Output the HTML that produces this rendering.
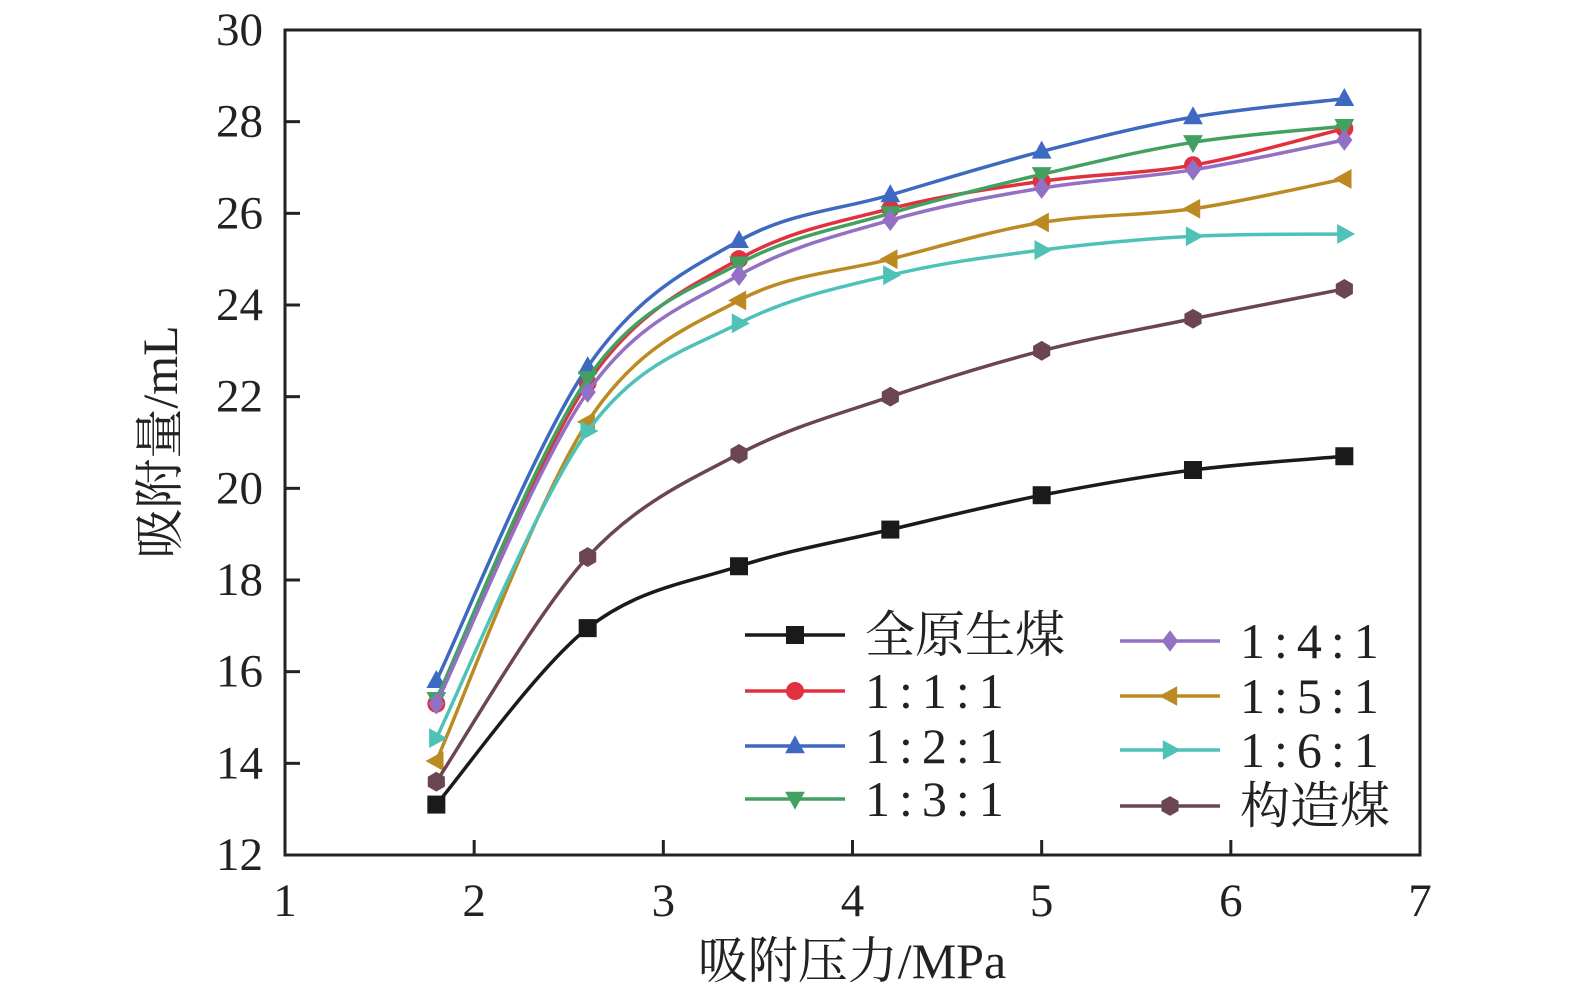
<!DOCTYPE html>
<html><head><meta charset="utf-8"><style>body{margin:0;background:#fff}svg{display:block}text{font-family:"Liberation Serif","Noto Serif CJK SC",serif;fill:#222}</style></head>
<body>
<svg id="c" width="1575" height="1001" xmlns="http://www.w3.org/2000/svg"></svg>
<script>
const xVals=[1.8,2.6,3.4,4.2,5.0,5.8,6.6];
const seriesNames=["全原生煤","1:1:1","1:2:1","1:3:1","1:4:1","1:5:1","1:6:1","构造煤"];
const s0=[13.1,16.95,18.3,19.1,19.85,20.4,20.7];
const s1=[15.3,22.3,25.0,26.1,26.7,27.05,27.85];
const s2=[15.8,22.65,25.4,26.4,27.35,28.1,28.5];
const s3=[15.4,22.4,24.9,26.0,26.85,27.55,27.9];
const s4=[15.3,22.1,24.65,25.85,26.55,26.95,27.6];
const s5=[14.05,21.45,24.1,25.0,25.8,26.1,26.75];
const s6=[14.55,21.25,23.6,24.65,25.2,25.5,25.55];
const s7=[13.6,18.5,20.75,22.0,23.0,23.7,24.35];
const xTicks=[1,2,3,4,5,6,7];
const yTicks=[12,14,16,18,20,22,24,26,28,30];
const series=[s0,s1,s2,s3,s4,s5,s6,s7];
const colors=["#1a1a1a","#e3303f","#3d69c0","#42a060","#9370c4","#bb8a22","#4fc2b8","#6b4650"];
const shapes=["square","circle","up","down","diamond","left","right","hex"];
const X0=285,X1=1420,Y0=855,Y1=30;
const sx=v=>X0+(v-1)/6*(X1-X0), sy=v=>Y0-(v-12)/18*(Y0-Y1);
const svg=document.getElementById('c');const NS="http://www.w3.org/2000/svg";
function mk(t,a,p){const e=document.createElementNS(NS,t);for(const k in a)e.setAttribute(k,a[k]);(p||svg).appendChild(e);return e;}
function marker(shape,x,y,c,r){let e;
 if(shape=="square")e=mk('rect',{x:x-r,y:y-r,width:2*r,height:2*r,fill:c});
 else if(shape=="circle")e=mk('circle',{cx:x,cy:y,r:r,fill:c});
 else{let p;
  if(shape=="up")p=[[x,y-r*1.2],[x+r*1.1,y+r*0.8],[x-r*1.1,y+r*0.8]];
  else if(shape=="down")p=[[x,y+r*1.2],[x+r*1.1,y-r*0.8],[x-r*1.1,y-r*0.8]];
  else if(shape=="left")p=[[x-r*1.2,y],[x+r*0.8,y-r*1.1],[x+r*0.8,y+r*1.1]];
  else if(shape=="right")p=[[x+r*1.2,y],[x-r*0.8,y-r*1.1],[x-r*0.8,y+r*1.1]];
  else if(shape=="diamond")p=[[x,y-r*1.2],[x+r*0.9,y],[x,y+r*1.2],[x-r*0.9,y]];
  else{p=[];for(let i=0;i<6;i++){const a=Math.PI/6+i*Math.PI/3;p.push([x+r*1.1*Math.cos(a),y+r*1.1*Math.sin(a)]);}}
  e=mk('polygon',{points:p.map(q=>q.join(',')).join(' '),fill:c});}
 return e;}
const fr=mk('rect',{x:X0,y:Y1,width:X1-X0,height:Y0-Y1,fill:'none',stroke:'#222','stroke-width':3});

xTicks.forEach(t=>{const x=sx(t);mk('line',{x1:x,x2:x,y1:Y0,y2:Y0-15,stroke:'#222','stroke-width':3});
 const tx=mk('text',{x:x,y:916,'font-size':47,'text-anchor':'middle'});tx.textContent=t;
 });
yTicks.forEach(t=>{const y=sy(t);mk('line',{x1:X0,x2:X0+15,y1:y,y2:y,stroke:'#222','stroke-width':3});
 const tx=mk('text',{x:263,y:y+15,'font-size':47,'text-anchor':'end'});tx.textContent=t;
 });
const xt=mk('text',{x:852,y:978,'font-size':50,'text-anchor':'middle'});xt.textContent="吸附压力/MPa";

const yt=mk('text',{x:0,y:0,'font-size':50,'text-anchor':'middle',transform:'translate(177,442) rotate(-90)'});yt.textContent="吸附量/mL";

function path(pts){let d=`M${pts[0][0]},${pts[0][1]}`;
 for(let i=0;i<pts.length-1;i++){const p0=pts[Math.max(i-1,0)],p1=pts[i],p2=pts[i+1],p3=pts[Math.min(i+2,pts.length-1)];
  d+=` C${p1[0]+(p2[0]-p0[0])/6},${p1[1]+(p2[1]-p0[1])/6} ${p2[0]-(p3[0]-p1[0])/6},${p2[1]-(p3[1]-p1[1])/6} ${p2[0]},${p2[1]}`;}
 return d;}
series.forEach((s,k)=>{const g=mk('g',{});
 const pts=s.map((v,i)=>[sx(xVals[i]),sy(v)]);
 const pl=mk('path',{d:path(pts),fill:'none',stroke:colors[k],'stroke-width':3.5},g);
 
 pts.forEach(p=>{const m=marker(shapes[k],p[0],p[1],colors[k],9);g.appendChild(m);
  });});
const legPos=[[745,635],[745,691],[745,746],[745,799],[1120,641],[1120,696],[1120,750],[1120,806]];
seriesNames.forEach((n,k)=>{const [x,y]=legPos[k];const g=mk('g',{});
 
 mk('line',{x1:x,x2:x+100,y1:y,y2:y,stroke:colors[k],'stroke-width':3.5},g);
 g.appendChild(marker(shapes[k],x+50,y,colors[k],9));
 const tx=mk('text',{x:x+120,y:y+17,'font-size':50,'letter-spacing':n.includes(':')?'9':'0'},g);tx.textContent=n;});
</script>
</body></html>
